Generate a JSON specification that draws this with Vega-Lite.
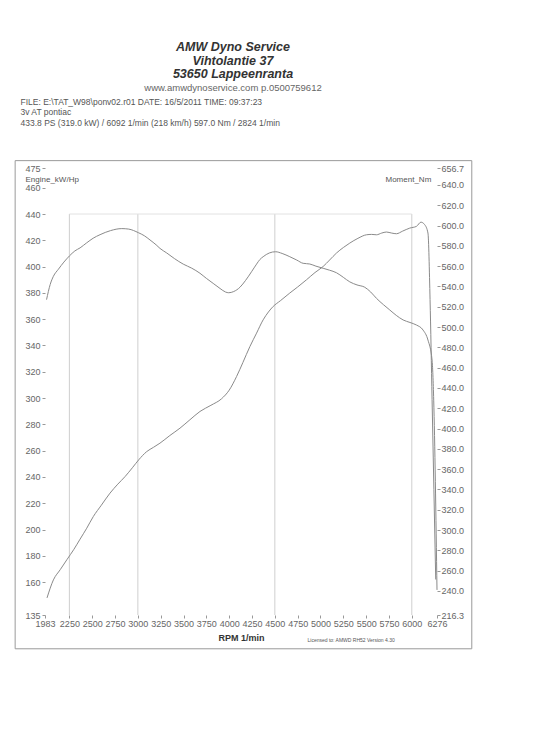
{
  "$schema": "https://vega.github.io/schema/vega-lite/v6.json",
  "width": 392,
  "height": 447,
  "autosize": {"type": "none"},
  "padding": {"left": 45, "top": 168, "right": 108, "bottom": 135},
  "background": "white",
  "config": {
    "font": "Liberation Sans",
    "view": {"stroke": null},
    "axis": {"labelFont": "Liberation Sans", "titleFont": "Liberation Sans", "labelColor": "#666", "tickColor": "#999", "grid": false, "domain": false, "labelOverlap": false, "labelFlush": false, "labelBound": false}
  },
  "title": {
    "text": ["AMW Dyno Service", "Vihtolantie 37", "53650 Lappeenranta"],
    "subtitle": "www.amwdynoservice.com p.0500759612",
    "anchor": "middle",
    "dx": -8,
    "offset": 5,
    "font": "Liberation Sans",
    "fontSize": 12.5,
    "fontStyle": "italic",
    "fontWeight": "bold",
    "color": "#333",
    "lineHeight": 13.5,
    "subtitleFont": "Liberation Sans",
    "subtitleFontSize": 9.5,
    "subtitleColor": "#666",
    "subtitlePadding": 2
  },
  "datasets": {
    "power": [
      {"rpm": 2005, "ps": 148}, {"rpm": 2075, "ps": 161.7}, {"rpm": 2150, "ps": 169.5}, {"rpm": 2222, "ps": 177},
      {"rpm": 2300, "ps": 185}, {"rpm": 2367, "ps": 192.7}, {"rpm": 2440, "ps": 201}, {"rpm": 2513, "ps": 210},
      {"rpm": 2600, "ps": 218.5}, {"rpm": 2695, "ps": 227.7}, {"rpm": 2780, "ps": 234.5}, {"rpm": 2860, "ps": 240.3},
      {"rpm": 2940, "ps": 247}, {"rpm": 3009, "ps": 253}, {"rpm": 3097, "ps": 259.3}, {"rpm": 3170, "ps": 262.5},
      {"rpm": 3242, "ps": 265.7}, {"rpm": 3350, "ps": 271.5}, {"rpm": 3461, "ps": 277.1}, {"rpm": 3570, "ps": 283.5},
      {"rpm": 3680, "ps": 289.8}, {"rpm": 3800, "ps": 294.5}, {"rpm": 3917, "ps": 299.5}, {"rpm": 4000, "ps": 306},
      {"rpm": 4081, "ps": 316.4}, {"rpm": 4150, "ps": 327}, {"rpm": 4227, "ps": 339.2}, {"rpm": 4300, "ps": 349.4},
      {"rpm": 4372, "ps": 359.5}, {"rpm": 4430, "ps": 365.5}, {"rpm": 4482, "ps": 369.7}, {"rpm": 4560, "ps": 374},
      {"rpm": 4664, "ps": 379.9}, {"rpm": 4750, "ps": 384.5}, {"rpm": 4847, "ps": 390}, {"rpm": 4940, "ps": 395.5},
      {"rpm": 5029, "ps": 400.1}, {"rpm": 5100, "ps": 405}, {"rpm": 5175, "ps": 410.3}, {"rpm": 5250, "ps": 414.5},
      {"rpm": 5321, "ps": 417.9}, {"rpm": 5410, "ps": 421.5}, {"rpm": 5503, "ps": 424.2}, {"rpm": 5560, "ps": 424.5},
      {"rpm": 5613, "ps": 424.2}, {"rpm": 5670, "ps": 425.5}, {"rpm": 5722, "ps": 426.3}, {"rpm": 5780, "ps": 425.5},
      {"rpm": 5832, "ps": 425}, {"rpm": 5900, "ps": 427}, {"rpm": 5978, "ps": 429.3}, {"rpm": 6051, "ps": 430.6},
      {"rpm": 6100, "ps": 433.8}, {"rpm": 6140, "ps": 432}, {"rpm": 6177, "ps": 425.5}, {"rpm": 6200, "ps": 375},
      {"rpm": 6222, "ps": 299}, {"rpm": 6262, "ps": 162}
    ],
    "torque": [
      {"rpm": 2000, "nm": 527}, {"rpm": 2040, "nm": 542}, {"rpm": 2075, "nm": 550}, {"rpm": 2130, "nm": 557},
      {"rpm": 2190, "nm": 564}, {"rpm": 2250, "nm": 570}, {"rpm": 2310, "nm": 575}, {"rpm": 2367, "nm": 578},
      {"rpm": 2440, "nm": 583}, {"rpm": 2510, "nm": 587.5}, {"rpm": 2586, "nm": 591}, {"rpm": 2700, "nm": 595},
      {"rpm": 2824, "nm": 597}, {"rpm": 2900, "nm": 596.5}, {"rpm": 3005, "nm": 593}, {"rpm": 3070, "nm": 590},
      {"rpm": 3133, "nm": 585.8}, {"rpm": 3200, "nm": 581}, {"rpm": 3242, "nm": 577.5}, {"rpm": 3316, "nm": 573},
      {"rpm": 3400, "nm": 567.5}, {"rpm": 3497, "nm": 562}, {"rpm": 3590, "nm": 558}, {"rpm": 3680, "nm": 553},
      {"rpm": 3750, "nm": 548}, {"rpm": 3825, "nm": 543}, {"rpm": 3900, "nm": 538}, {"rpm": 3960, "nm": 534.5},
      {"rpm": 3995, "nm": 533.8}, {"rpm": 4050, "nm": 535}, {"rpm": 4118, "nm": 539.2}, {"rpm": 4180, "nm": 546},
      {"rpm": 4245, "nm": 554.5}, {"rpm": 4300, "nm": 562}, {"rpm": 4336, "nm": 566.5}, {"rpm": 4372, "nm": 569.3},
      {"rpm": 4440, "nm": 573}, {"rpm": 4508, "nm": 574.2}, {"rpm": 4580, "nm": 572.5}, {"rpm": 4664, "nm": 569.3},
      {"rpm": 4740, "nm": 566}, {"rpm": 4810, "nm": 562.8}, {"rpm": 4883, "nm": 562.1}, {"rpm": 4950, "nm": 560},
      {"rpm": 5029, "nm": 557.9}, {"rpm": 5100, "nm": 556}, {"rpm": 5175, "nm": 553.5}, {"rpm": 5250, "nm": 549},
      {"rpm": 5321, "nm": 544.5}, {"rpm": 5400, "nm": 541.5}, {"rpm": 5485, "nm": 539.2}, {"rpm": 5550, "nm": 534.5},
      {"rpm": 5613, "nm": 528.3}, {"rpm": 5690, "nm": 522}, {"rpm": 5759, "nm": 516.8}, {"rpm": 5830, "nm": 511.5},
      {"rpm": 5905, "nm": 507}, {"rpm": 5980, "nm": 504.5}, {"rpm": 6051, "nm": 502}, {"rpm": 6123, "nm": 497.1},
      {"rpm": 6177, "nm": 487.2}, {"rpm": 6222, "nm": 467.5}, {"rpm": 6240, "nm": 428}, {"rpm": 6276, "nm": 241}
    ],
    "grid": [{"rpm": 2250}, {"rpm": 3000}, {"rpm": 4500}, {"rpm": 6000}]
  },
  "layer": [
    {
      "data": {"values": [{}]},
      "mark": {"type": "rect", "fill": null, "stroke": "#9a9a9a", "strokeWidth": 1, "clip": false},
      "encoding": {
        "x": {"datum": 1656, "type": "quantitative", "scale": {"domain": [1983, 6276], "nice": false, "zero": false}, "axis": null},
        "x2": {"datum": 6657},
        "y": {"datum": 480.6, "type": "quantitative", "scale": {"domain": [135, 475], "nice": false, "zero": false}, "axis": null},
        "y2": {"datum": 109.3}
      }
    },
    {
      "data": {"name": "grid"},
      "mark": {"type": "rule", "color": "#cfcfcf", "strokeWidth": 1},
      "encoding": {
        "x": {
          "field": "rpm", "type": "quantitative", "scale": {"domain": [1983, 6276], "nice": false, "zero": false},
          "axis": {
            "orient": "bottom", "labels": false, "ticks": false, "domain": false,
            "title": "Licensed to: AMWD RH52   Version 4.30", "titleFontSize": 5, "titleFontWeight": "normal", "titleColor": "#555",
            "titleAlign": "left", "titleBaseline": "middle", "titleX": 262, "titleY": 24
          }
        },
        "y": {"datum": 440, "type": "quantitative", "scale": {"domain": [135, 475], "nice": false, "zero": false}, "axis": null},
        "y2": {"datum": 135}
      }
    },
    {
      "data": {"values": [{}]},
      "mark": {"type": "rule", "color": "#e2e2e2", "strokeWidth": 1},
      "encoding": {
        "x": {"datum": 2250, "type": "quantitative", "scale": {"domain": [1983, 6276], "nice": false, "zero": false}, "axis": null},
        "x2": {"datum": 6000},
        "y": {"datum": 440, "type": "quantitative", "scale": {"domain": [135, 475], "nice": false, "zero": false}, "axis": null}
      }
    },
    {
      "data": {"name": "power"},
      "mark": {"type": "line", "color": "#8a8a8a", "strokeWidth": 1, "interpolate": "monotone"},
      "encoding": {
        "x": {
          "field": "rpm", "type": "quantitative",
          "scale": {"domain": [1983, 6276], "nice": false, "zero": false},
          "axis": {
            "orient": "bottom",
            "values": [1983, 2250, 2500, 2750, 3000, 3250, 3500, 3750, 4000, 4250, 4500, 4750, 5000, 5250, 5500, 5750, 6000, 6276],
            "format": "d", "labelFontSize": 9, "labelFlush": false, "labelOverlap": false,
            "tickSize": 3, "labelPadding": 1,
            "title": "RPM  1/min", "titleFontSize": 9, "titleFontWeight": "bold", "titleColor": "#333", "titlePadding": 5
          }
        },
        "y": {
          "field": "ps", "type": "quantitative",
          "scale": {"domain": [135, 475], "nice": false, "zero": false},
          "axis": {
            "orient": "left",
            "values": [135, 160, 180, 200, 220, 240, 260, 280, 300, 320, 340, 360, 380, 400, 420, 440, 460, 475],
            "labelFontSize": 9, "labelFlush": false, "labelOverlap": false, "tickSize": 3, "labelPadding": 2,
            "title": "Engine_kW/Hp", "titleAngle": 0, "titleAlign": "left", "titleBaseline": "middle",
            "titleX": -20, "titleY": 11, "titleFontSize": 8, "titleFontWeight": "normal", "titleColor": "#555"
          }
        }
      }
    },
    {
      "data": {"name": "torque"},
      "mark": {"type": "line", "color": "#8a8a8a", "strokeWidth": 1, "interpolate": "monotone"},
      "encoding": {
        "x": {
          "field": "rpm", "type": "quantitative",
          "scale": {"domain": [1983, 6276], "nice": false, "zero": false},
          "axis": {
            "orient": "top", "labels": false, "ticks": false, "domain": false,
            "title": ["FILE: E:\\TAT_W98\\ponv02.r01  DATE: 16/5/2011  TIME: 09:37:23", "3v AT pontiac", "433.8 PS  (319.0 kW) / 6092 1/min (218 km/h)    597.0 Nm / 2824 1/min"],
            "titleAngle": 0, "titleAlign": "left", "titleBaseline": "top", "titleX": -25, "titleY": -71,
            "titleFontSize": 8.5, "titleFontWeight": "normal", "titleColor": "#555", "titleLineHeight": 10.5
          }
        },
        "y": {
          "field": "nm", "type": "quantitative",
          "scale": {"domain": [216.3, 656.7], "nice": false, "zero": false},
          "axis": {
            "orient": "right",
            "values": [216.3, 240, 260, 280, 300, 320, 340, 360, 380, 400, 420, 440, 460, 480, 500, 520, 540, 560, 580, 600, 620, 640, 656.7],
            "format": ".1f", "labelFontSize": 9, "labelFlush": false, "labelOverlap": false, "tickSize": 3, "labelPadding": 1,
            "title": "Moment_Nm", "titleAngle": 0, "titleAlign": "left", "titleBaseline": "middle",
            "titleX": -52, "titleY": 11, "titleFontSize": 8, "titleFontWeight": "normal", "titleColor": "#555"
          }
        }
      }
    }
  ],
  "resolve": {"scale": {"y": "independent"}, "axis": {"x": "independent", "y": "independent"}}
}
